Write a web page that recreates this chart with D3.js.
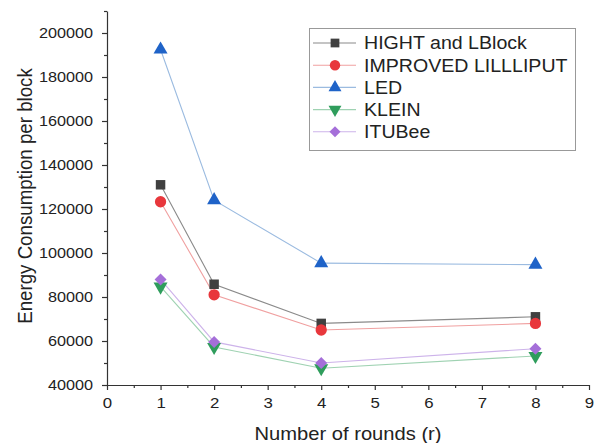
<!DOCTYPE html>
<html>
<head>
<meta charset="utf-8">
<script src="https://cdn.jsdelivr.net/npm/d3@7"></script>
<style>
  body { margin: 0; background: #fff; }
  svg text { font-family: "Liberation Sans", Arial, sans-serif; fill: #222; }
</style>
</head>
<body>
<div id="chart"></div>
<script>
const rounds = [1, 2, 4, 8];
const seriesNames = ['HIGHT and LBlock', 'IMPROVED LILLLIPUT', 'LED', 'KLEIN', 'ITUBee'];
const hight = [131000, 85800, 68000, 71000];
const lilliput = [123300, 81000, 65000, 68000];
const led = [192500, 124000, 95400, 94700];
const klein = [84700, 57300, 47600, 53200];
const itubee = [88000, 59600, 50000, 56500];
const xTicks = [0, 1, 2, 3, 4, 5, 6, 7, 8, 9];
const yTicks = [40000, 60000, 80000, 100000, 120000, 140000, 160000, 180000, 200000];

// diamond = square turned 45 degrees
const styles = [
  { fill: '#404040', line: '#8a8a8a', sym: d3.symbolSquare, size: 90, rot: 0 },
  { fill: '#e8373c', line: '#f0a0a0', sym: d3.symbolCircle, size: 100, rot: 0 },
  { fill: '#1f63c8', line: '#9bbbe0', sym: d3.symbolTriangle, size: 85, rot: 0 },
  { fill: '#2f9d5c', line: '#9fd2b2', sym: d3.symbolTriangle, size: 85, rot: 180 },
  { fill: '#a56fd9', line: '#cdb3ea', sym: d3.symbolSquare, size: 72, rot: 45 }
];
const values = [hight, lilliput, led, klein, itubee];

const W = 597, H = 443;
const sx = 1.12; // the picture is a bit wider than tall, text looks stretched

const svg = d3.select('#chart').append('svg')
  .attr('width', W).attr('height', H);

const x = d3.scaleLinear().domain([0, 9]).range([107, 589]);
const y = d3.scaleLinear().domain([40000, 210000]).range([385, 11]);

// x axis with minor ticks
const gx = svg.append('g').attr('transform', `translate(0,${y(40000)})`);
gx.call(d3.axisBottom(x).tickValues(d3.range(0.5, 9, 1)).tickSize(3).tickFormat(''))
  .call(g => g.select('.domain').remove());
gx.append('g').call(d3.axisBottom(x).tickValues(xTicks).tickSize(5).tickSizeOuter(0).tickFormat(d3.format('d')))
  .call(g => g.selectAll('text').attr('font-size', 15).attr('y', 10).attr('dy', '0.9em')
    .attr('transform', `scale(${sx},1)`));

// y axis with minor ticks
const gy = svg.append('g').attr('transform', `translate(${x(0)},0)`);
gy.call(d3.axisLeft(y).tickValues(d3.range(50000, 215000, 20000)).tickSize(3).tickFormat(''))
  .call(g => g.select('.domain').remove());
gy.append('g').call(d3.axisLeft(y).tickValues(yTicks).tickSize(5).tickSizeOuter(0).tickFormat(d3.format('d')))
  .call(g => g.selectAll('text').attr('font-size', 14.5).attr('x', -12.5)
    .attr('transform', `scale(${sx},1)`));

svg.selectAll('.domain, .tick line').attr('stroke', '#333').attr('stroke-width', 1.2);

svg.append('text').attr('transform', `translate(348,440) scale(${sx},1)`).attr('text-anchor', 'middle')
  .attr('font-size', 18).text('Number of rounds (r)');
svg.append('text').attr('transform', `translate(32,196) rotate(-90) scale(1,${sx})`).attr('text-anchor', 'middle')
  .attr('font-size', 18.7).text('Energy Consumption per block');

const line = d3.line().x((d, i) => x(rounds[i])).y(d => y(d));

values.forEach((vals, k) => {
  const s = styles[k];
  svg.append('path').datum(vals).attr('d', line)
    .attr('fill', 'none').attr('stroke', s.line).attr('stroke-width', 1.1);
});
values.forEach((vals, k) => {
  const s = styles[k];
  svg.selectAll(null).data(vals).enter().append('path')
    .attr('d', d3.symbol().type(s.sym).size(s.size))
    .attr('transform', (d, i) => `translate(${x(rounds[i])},${y(d)}) rotate(${s.rot})`)
    .attr('fill', s.fill);
});

// legend
const lg = svg.append('g');
lg.append('rect').attr('x', 309.5).attr('y', 28.5).attr('width', 266).attr('height', 122)
  .attr('fill', '#fff').attr('stroke', '#999').attr('stroke-width', 1);
seriesNames.forEach((name, k) => {
  const s = styles[k];
  const cy = 43 + k * 22.2;
  lg.append('line').attr('x1', 313).attr('x2', 356).attr('y1', cy).attr('y2', cy)
    .attr('stroke', s.line).attr('stroke-width', 1.1);
  lg.append('path').attr('d', d3.symbol().type(s.sym).size(s.size * 0.85))
    .attr('transform', `translate(335,${cy}) rotate(${s.rot})`).attr('fill', s.fill);
  lg.append('text').attr('transform', `translate(364,${cy}) scale(${sx},1)`).attr('dy', '0.36em')
    .attr('font-size', 17.5).text(name);
});
</script>
</body>
</html>
